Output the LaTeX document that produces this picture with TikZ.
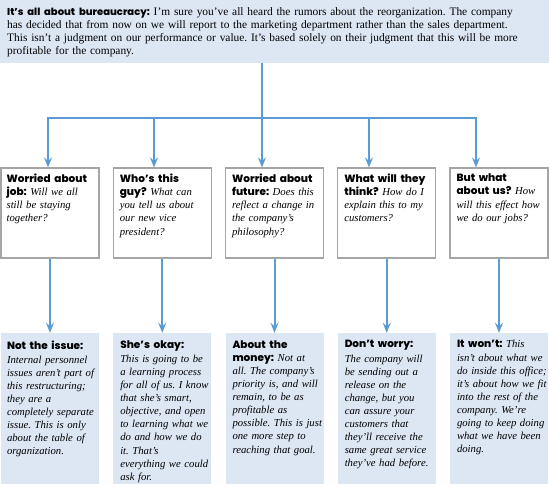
\documentclass[tikz,border=0pt]{standalone}
\usepackage{fontspec}
\setmainfont{Liberation Serif}
\newfontfamily\hdfont{Poppins ExtraBold}
\usetikzlibrary{arrows.meta}
\frenchspacing
\definecolor{lineblue}{RGB}{91,155,213}
\definecolor{bgblue}{RGB}{221,231,244}
\definecolor{boxgray}{RGB}{165,165,165}
\newcommand{\hd}[1]{{\hdfont\fontsize{10.5}{13}\selectfont #1}}
\newcommand{\thd}[1]{{\hdfont\fontsize{10}{13}\selectfont #1}}
\tikzset{
  conn/.style={draw=lineblue, line width=2pt},
  arr/.style={conn, -{Stealth[length=10pt,width=8pt,inset=3.5pt]}},
  qbox/.style={draw=boxgray, line width=1.2pt, fill=white, minimum width=98pt, minimum height=90pt, inner sep=0pt},
  abox/.style={fill=bgblue, minimum width=98pt, minimum height=151pt, inner sep=0pt},
  btext/.style={anchor=north west, inner sep=0pt, text width=100pt, align=left, font=\fontsize{10.7}{13.1}\selectfont\frenchspacing},
}
\begin{document}
\begin{tikzpicture}[x=1pt,y=-1pt]
\useasboundingbox (0,0) rectangle (549,484);
% top box
\node[fill=bgblue, minimum width=549pt, minimum height=63pt, inner sep=0pt, anchor=north west] (top) at (0,0) {};
\node[anchor=north west, inner sep=0pt, text width=545pt, align=left, font=\fontsize{11.4}{13}\selectfont\frenchspacing] (toptext) at (7,7.5)
 {\thd{It’s all about bureaucracy:} I’m sure you’ve all heard the rumors about the reorganization. The company\\
 has decided that from now on we will report to the marketing department rather than the sales department.\\
 This isn’t a judgment on our performance or value. It’s based solely on their judgment that this will be more\\
 profitable for the company.};
% middle boxes
\node[qbox] (q1) at (50,213) {};
\node[qbox] (q2) at (162.25,213) {};
\node[qbox] (q3) at (274.5,213) {};
\node[qbox] (q4) at (386.75,213) {};
\node[qbox] (q5) at (499,213) {};
% bottom boxes
\node[abox] (a1) at (50,408.5) {};
\node[abox] (a2) at (162.25,408.5) {};
\node[abox] (a3) at (274.5,408.5) {};
\node[abox] (a4) at (386.75,408.5) {};
\node[abox] (a5) at (499,408.5) {};
% connectors top
\coordinate (j) at (262,118);
\coordinate (b1) at (48,118);
\coordinate (b2) at (154,118);
\coordinate (b3) at (262,118);
\coordinate (b4) at (369,118);
\coordinate (b5) at (476,118);
\draw[conn] (top.south -| j) -- (j);
\draw[conn, line cap=rect] (b1) -- (b5);
\draw[arr] (b1) -- (q1.north -| b1);
\draw[arr] (b2) -- (q2.north -| b2);
\draw[arr] (b3) -- (q3.north -| b3);
\draw[arr] (b4) -- (q4.north -| b4);
\draw[arr] (b5) -- (q5.north -| b5);
% connectors lower
\draw[arr] (q1.south) -- (a1.north);
\draw[arr] (q2.south) -- (a2.north);
\draw[arr] (q3.south) -- (a3.north);
\draw[arr] (q4.south) -- (a4.north);
\draw[arr] (q5.south) -- (a5.north);
% question texts
\node[btext] (qt1) at ([shift={(6,6.5)}]q1.north west) {\hd{Worried about}\\ \hd{job:} \textit{Will we all}\\ \textit{still be staying}\\ \textit{together?}};
\node[btext] (qt2) at ([shift={(7,6.5)}]q2.north west) {\hd{Who’s this}\\ \hd{guy?} \textit{What can}\\ \textit{you tell us about}\\ \textit{our new vice}\\ \textit{president?}};
\node[btext] (qt3) at ([shift={(7,6.5)}]q3.north west) {\hd{Worried about}\\ \hd{future:} \textit{Does this}\\ \textit{reflect a change in}\\ \textit{the company’s}\\ \textit{philosophy?}};
\node[btext] (qt4) at ([shift={(7,6.5)}]q4.north west) {\hd{What will they}\\ \hd{think?} \textit{How do I}\\ \textit{explain this to my}\\ \textit{customers?}};
\node[btext] (qt5) at ([shift={(7,6.5)}]q5.north west) {\hd{But what}\\ \hd{about us?} \textit{How}\\ \textit{will this effect how}\\ \textit{we do our jobs?}};
% answer texts
\node[btext] (at1) at ([shift={(6,7.5)}]a1.north west) {\hd{Not the issue:}\\[1pt] \itshape Internal personnel\\ issues aren’t part of\\ this restructuring;\\ they are a\\ completely separate\\ issue. This is only\\ about the table of\\ organization.};
\node[btext] (at2) at ([shift={(7,7.5)}]a2.north west) {\hd{She’s okay:}\\[1pt] \itshape This is going to be\\ a learning process\\ for all of us. I know\\ that she’s smart,\\ objective, and open\\ to learning what we\\ do and how we do\\ it. That’s\\ everything we could\\ ask for.};
\node[btext] (at3) at ([shift={(7,7.5)}]a3.north west) {\hd{About the}\\ \hd{money:} \textit{Not at}\\ \itshape all. The company’s\\ priority is, and will\\ remain, to be as\\ profitable as\\ possible. This is just\\ one more step to\\ reaching that goal.};
\node[btext] (at4) at ([shift={(7,7.5)}]a4.north west) {\hd{Don’t worry:}\\[1pt] \itshape The company will\\ be sending out a\\ release on the\\ change, but you\\ can assure your\\ customers that\\ they’ll receive the\\ same great service\\ they’ve had before.};
\node[btext] (at5) at ([shift={(7,7.5)}]a5.north west) {\hd{It won’t:} \textit{This}\\ \itshape isn’t about what we\\ do inside this office;\\ it’s about how we fit\\ into the rest of the\\ company. We’re\\ going to keep doing\\ what we have been\\ doing.};
\end{tikzpicture}
\end{document}
